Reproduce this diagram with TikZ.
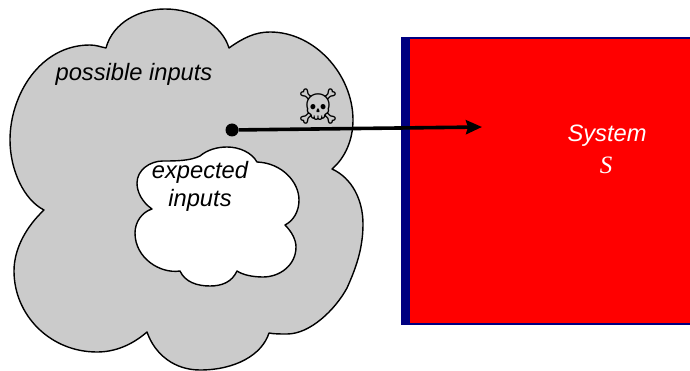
\documentclass[tikz,border=0pt]{standalone}
\usepackage{fontspec}
\setmainfont{Liberation Sans}
\newfontfamily\serifital{Liberation Serif}
\newfontfamily\skullfont{Noto Emoji}
\usetikzlibrary{
    positioning,
    arrows.meta
    }
\definecolor{cloudgray}{RGB}{203,203,203}
\definecolor{barblue}{RGB}{0,0,128}

\begin{document}
\begin{tikzpicture}[x=1pt, y=-1pt]
\tikzset{cloud line/.style =
        {
            line width=1.4pt,
            line join=round,
            draw=black
        }
}

\tikzset{label text/.style =
        {
            font=\fontsize{23.7}{28}\selectfont\itshape,
            inner sep=0pt,
            text=black
        }
}

\tikzset{system text/.style =
        {
            label text,
            text=white
        }
}

\tikzset{start dot/.style =
        {
            shape=circle,
            fill=black,
            minimum size=13pt,
            inner sep=0pt
        }
}

\tikzset{attack/.style = {
            line width=3.6pt,
            -{Stealth[length=16pt, width=14pt, inset=2pt]}
        }
}

		\useasboundingbox (0,0) rectangle (690,371);

		% system block
		\fill[red] (402,37) rectangle (690,325);
		\fill[barblue] (402,37) rectangle (410,325);
		\draw[barblue, line width=1.3pt] (690,38) -- (402,38) -- (402,324) -- (690,324);

		% possible inputs
		\draw[cloud line, fill=cloudgray] (106,48)
			.. controls (113,22) and (140,9) .. (165,9)
			.. controls (195,9) and (222,25) .. (229,48)
			.. controls (243,38) and (255,32) .. (270,32)
			.. controls (315,32) and (353,75) .. (353,120)
			.. controls (353,140) and (345,158) .. (332,169)
			.. controls (352,178) and (363,200) .. (363,224)
			.. controls (363,250) and (355,270) .. (347,288)
			.. controls (335,310) and (310,334) .. (287,334)
			.. controls (280,334) and (274,334) .. (269,333)
			.. controls (262,355) and (235,370) .. (200,370)
			.. controls (175,370) and (155,355) .. (147,332)
			.. controls (132,345) and (115,352) .. (97,352)
			.. controls (50,352) and (14,315) .. (14,271)
			.. controls (14,248) and (27,226) .. (44,210)
			.. controls (24,200) and (10,170) .. (10,140)
			.. controls (10,95) and (40,45) .. (90,45)
			.. controls (96,45) and (101,47) .. (106,48) -- cycle;

		% expected inputs
		\draw[cloud line, fill=white] (152,209)
			.. controls (142,202) and (137,192) .. (137,183)
			.. controls (137,170) and (150,161) .. (163,161)
			.. controls (175,161) and (190,161) .. (200,156)
			.. controls (207,150) and (217,147) .. (227,147)
			.. controls (240,147) and (252,153) .. (257,162)
			.. controls (282,163) and (299,182) .. (299,200)
			.. controls (299,212) and (293,221) .. (285,225)
			.. controls (292,232) and (296,240) .. (296,247)
			.. controls (296,265) and (280,277) .. (263,277)
			.. controls (253,277) and (243,275) .. (237,271)
			.. controls (232,282) and (222,286) .. (210,286)
			.. controls (197,286) and (185,282) .. (180,271)
			.. controls (160,274) and (135,258) .. (135,233)
			.. controls (135,222) and (142,212) .. (152,209) -- cycle;

		\foreach \name / \x / \y / \lab in
			{possible/134/74/possible inputs,
				expected/200/172/expected,
				inputs/200/200/inputs}
		\node[label text] at (\x,\y) (lab-\name) {\lab};

		\node[system text] at (607,136) (lab-system) {System};
		\node[system text, font=\fontsize{25}{28}\selectfont\serifital\itshape] at (606,165) (lab-s) {S};

		\node[inner sep=0pt, font=\fontsize{35}{38}\selectfont\skullfont] at (318,107) (skull) {☠};

		\node[start dot] at (232,130) (dot) {};
		\coordinate (target) at (482,127);
		\draw[attack] (dot) -- (target);

	\end{tikzpicture}
\end{document}
